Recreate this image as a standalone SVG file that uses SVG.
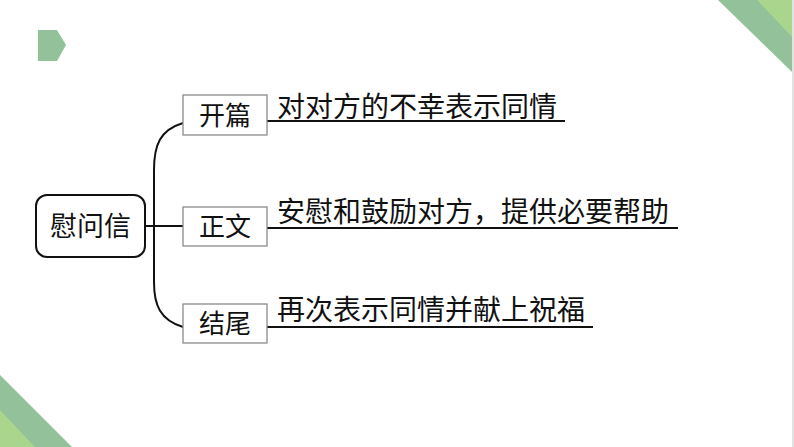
<svg xmlns="http://www.w3.org/2000/svg" width="794" height="447" viewBox="0 0 794 447">
<style>
.t{font-family:"Noto Sans CJK SC","Noto Sans",sans-serif;fill:#111;}
.box{fill:#fff;stroke:#8a8a8a;stroke-width:1.3;}
.ln{fill:none;stroke:#111;stroke-width:2;}
.dg{fill:#92c19a;}
.lg{fill:#a9d58c;}
</style>
<rect x="0" y="0" width="794" height="447" fill="#fff"/>
<rect x="792" y="0" width="2" height="447" fill="#e2e2e2"/>
<g id="decor">
<polygon class="dg" points="38,30 57,30 66,45 57,61 38,61"/>
<polygon class="dg" points="718,0 792,0 792,72"/>
<polygon class="lg" points="757,0 792,0 792,37"/>
<polygon class="dg" points="0,375 72,447 0,447"/>
<polygon class="lg" points="0,410 35,447 0,447"/>
</g>
<g id="connectors">
<path class="ln" d="M145,226 H183"/>
<path class="ln" d="M183,123 C160,130 154,145 154,170 V282 C154,305 160,320 183,327"/>
<path class="ln" d="M267,121 H565"/>
<path class="ln" d="M267,228 H678"/>
<path class="ln" d="M267,327 H593"/>
</g>
<g id="root">
<rect x="36" y="195" width="109" height="62" rx="11" fill="#fff" stroke="#111" stroke-width="2"/>
<text class="t" x="90.5" y="236" font-size="27" text-anchor="middle">慰问信</text>
</g>
<g id="n1">
<rect class="box" x="183" y="95" width="84" height="40"/>
<text class="t" x="225" y="125" font-size="26" text-anchor="middle">开篇</text>
</g>
<g id="n2">
<rect class="box" x="183" y="207" width="84" height="39"/>
<text class="t" x="225" y="236" font-size="26" text-anchor="middle">正文</text>
</g>
<g id="n3">
<rect class="box" x="183" y="304" width="84" height="39"/>
<text class="t" x="225" y="333" font-size="26" text-anchor="middle">结尾</text>
</g>
<g id="d1">
<text class="t" x="277" y="117" font-size="28">对对方的不幸表示同情</text>
</g>
<g id="d2">
<text class="t" x="277" y="222" font-size="28">安慰和鼓励对方，提供必要帮助</text>
</g>
<g id="d3">
<text class="t" x="277" y="320" font-size="28">再次表示同情并献上祝福</text>
</g>
</svg>
